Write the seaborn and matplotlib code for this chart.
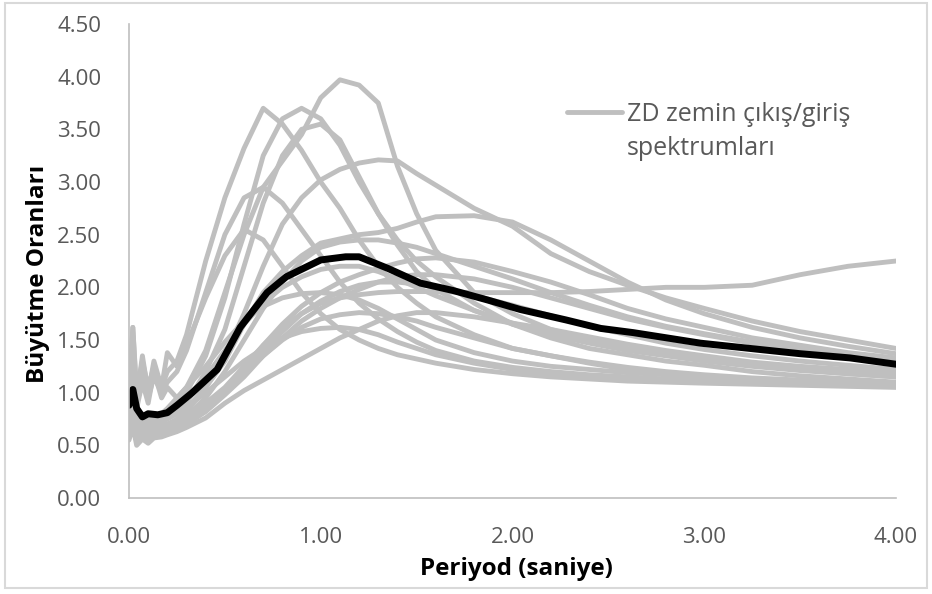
import numpy as np
import pandas as pd
import seaborn as sns
import matplotlib
matplotlib.use("Agg")
import matplotlib.pyplot as plt
from matplotlib.lines import Line2D
from matplotlib.patches import Rectangle

# Period grid (s) shared by all spectra
period = [0.00, 0.02, 0.04, 0.07, 0.10, 0.13, 0.17, 0.20, 0.25, 0.30, 0.40, 0.50,
          0.60, 0.70, 0.80, 0.90, 1.00, 1.10, 1.20, 1.30, 1.40, 1.50, 1.60, 1.80,
          2.00, 2.20, 2.40, 2.60, 2.80, 3.00, 3.25, 3.50, 3.75, 4.00]

# Output/input spectral ratios of the individual records
spectra = {
    "r01": [0.70, 0.85, 0.72, 0.80, 0.75, 0.78, 0.80, 0.85, 0.95, 1.05, 1.40, 1.95, 2.50, 2.95, 3.20, 3.45, 3.80, 3.97, 3.92, 3.75, 3.15, 2.70, 2.35, 1.95, 1.75, 1.60, 1.50, 1.42, 1.36, 1.32, 1.26, 1.22, 1.18, 1.15],
    "r02": [0.95, 1.62, 1.00, 1.30, 1.05, 1.25, 1.05, 1.20, 1.30, 1.55, 2.25, 2.85, 3.32, 3.70, 3.55, 3.30, 3.00, 2.75, 2.45, 2.20, 2.00, 1.85, 1.72, 1.55, 1.42, 1.35, 1.28, 1.22, 1.18, 1.15, 1.12, 1.10, 1.08, 1.06],
    "r03": [0.75, 0.90, 0.70, 0.75, 0.72, 0.75, 0.78, 0.82, 0.90, 1.00, 1.35, 1.90, 2.60, 3.25, 3.60, 3.70, 3.60, 3.35, 3.00, 2.70, 2.45, 2.25, 2.10, 1.85, 1.65, 1.52, 1.42, 1.36, 1.30, 1.26, 1.20, 1.16, 1.13, 1.10],
    "r04": [0.65, 0.80, 0.62, 0.68, 0.65, 0.66, 0.68, 0.70, 0.75, 0.82, 1.05, 1.35, 1.75, 2.20, 2.60, 2.85, 3.02, 3.12, 3.18, 3.21, 3.20, 3.08, 2.97, 2.75, 2.58, 2.32, 2.15, 2.02, 1.90, 1.80, 1.68, 1.58, 1.50, 1.42],
    "r05": [0.70, 0.85, 0.68, 0.72, 0.70, 0.72, 0.74, 0.76, 0.80, 0.85, 1.05, 1.30, 1.65, 1.95, 2.15, 2.30, 2.42, 2.46, 2.50, 2.52, 2.56, 2.62, 2.67, 2.68, 2.62, 2.45, 2.25, 2.05, 1.88, 1.75, 1.62, 1.52, 1.44, 1.37],
    "r06": [0.60, 0.75, 0.58, 0.62, 0.60, 0.62, 0.64, 0.66, 0.70, 0.75, 0.90, 1.05, 1.25, 1.45, 1.62, 1.75, 1.85, 1.90, 1.93, 1.95, 1.96, 1.96, 1.96, 1.95, 1.95, 1.95, 1.96, 1.98, 2.00, 2.00, 2.02, 2.12, 2.20, 2.25],
    "r07": [0.90, 1.62, 0.95, 1.35, 1.00, 1.30, 1.05, 1.38, 1.25, 1.45, 1.90, 2.30, 2.55, 2.45, 2.20, 1.95, 1.75, 1.60, 1.50, 1.42, 1.36, 1.32, 1.28, 1.22, 1.18, 1.15, 1.13, 1.11, 1.10, 1.09, 1.08, 1.07, 1.06, 1.05],
    "r08": [0.85, 1.20, 0.90, 1.25, 0.95, 1.15, 1.00, 1.10, 1.20, 1.40, 1.95, 2.50, 2.85, 2.95, 2.80, 2.55, 2.30, 2.05, 1.85, 1.70, 1.58, 1.48, 1.40, 1.30, 1.24, 1.20, 1.17, 1.15, 1.13, 1.12, 1.10, 1.09, 1.08, 1.07],
    "r09": [0.70, 0.85, 0.65, 0.70, 0.68, 0.70, 0.72, 0.75, 0.82, 0.90, 1.20, 1.60, 2.20, 2.80, 3.25, 3.50, 3.55, 3.40, 3.05, 2.70, 2.40, 2.15, 1.98, 1.78, 1.65, 1.55, 1.47, 1.40, 1.35, 1.30, 1.25, 1.21, 1.18, 1.15],
    "r10": [0.65, 0.80, 0.60, 0.65, 0.62, 0.64, 0.66, 0.68, 0.72, 0.78, 0.95, 1.20, 1.50, 1.80, 2.05, 2.25, 2.38, 2.43, 2.45, 2.45, 2.42, 2.38, 2.32, 2.20, 2.08, 1.95, 1.83, 1.72, 1.63, 1.56, 1.48, 1.41, 1.36, 1.32],
    "r11": [0.62, 0.75, 0.58, 0.62, 0.60, 0.61, 0.63, 0.65, 0.68, 0.72, 0.85, 1.02, 1.22, 1.45, 1.65, 1.82, 1.95, 2.05, 2.12, 2.18, 2.23, 2.27, 2.28, 2.24, 2.15, 2.05, 1.93, 1.80, 1.70, 1.62, 1.52, 1.45, 1.38, 1.33],
    "r12": [0.75, 0.95, 0.72, 0.78, 0.75, 0.76, 0.78, 0.80, 0.88, 0.95, 1.15, 1.40, 1.65, 1.85, 2.00, 2.10, 2.17, 2.20, 2.20, 2.15, 2.08, 2.00, 1.92, 1.78, 1.66, 1.56, 1.48, 1.41, 1.36, 1.32, 1.27, 1.23, 1.20, 1.17],
    "r13": [0.60, 0.70, 0.55, 0.60, 0.58, 0.60, 0.62, 0.64, 0.68, 0.72, 0.85, 1.00, 1.20, 1.40, 1.58, 1.75, 1.87, 1.96, 2.02, 2.05, 2.05, 2.03, 2.00, 1.92, 1.83, 1.73, 1.63, 1.55, 1.47, 1.41, 1.35, 1.30, 1.26, 1.22],
    "r14": [0.55, 0.68, 0.50, 0.56, 0.52, 0.57, 0.58, 0.60, 0.63, 0.67, 0.76, 0.90, 1.02, 1.12, 1.22, 1.32, 1.42, 1.52, 1.60, 1.68, 1.73, 1.76, 1.76, 1.72, 1.66, 1.60, 1.53, 1.46, 1.40, 1.35, 1.29, 1.25, 1.22, 1.19],
    "r15": [0.62, 0.75, 0.58, 0.62, 0.60, 0.62, 0.63, 0.65, 0.70, 0.75, 0.88, 1.02, 1.18, 1.35, 1.50, 1.62, 1.70, 1.74, 1.76, 1.75, 1.72, 1.68, 1.62, 1.52, 1.42, 1.35, 1.29, 1.24, 1.20, 1.17, 1.14, 1.12, 1.10, 1.08],
    "r16": [0.68, 0.85, 0.65, 0.70, 0.68, 0.70, 0.72, 0.75, 0.80, 0.86, 1.00, 1.15, 1.30, 1.42, 1.52, 1.58, 1.61, 1.62, 1.60, 1.55, 1.48, 1.42, 1.36, 1.28, 1.22, 1.18, 1.15, 1.13, 1.12, 1.11, 1.10, 1.09, 1.08, 1.07],
    "r17": [0.80, 1.40, 0.85, 1.10, 0.90, 1.20, 0.95, 1.05, 0.95, 1.05, 1.25, 1.48, 1.68, 1.82, 1.90, 1.94, 1.95, 1.93, 1.88, 1.80, 1.70, 1.60, 1.50, 1.38, 1.30, 1.25, 1.22, 1.19, 1.17, 1.15, 1.13, 1.11, 1.10, 1.09],
    "r18": [0.58, 0.70, 0.55, 0.58, 0.57, 0.58, 0.60, 0.62, 0.65, 0.70, 0.82, 0.98, 1.15, 1.35, 1.52, 1.68, 1.80, 1.90, 1.98, 2.05, 2.10, 2.12, 2.12, 2.08, 2.00, 1.90, 1.80, 1.70, 1.62, 1.55, 1.47, 1.40, 1.35, 1.30],
}

# Mean ratio curve
mean_period = [0.00, 0.02, 0.04, 0.07, 0.10, 0.15, 0.20, 0.25, 0.33, 0.46, 0.58, 0.72,
               0.82, 1.00, 1.13, 1.20, 1.35, 1.52, 1.69, 1.87, 2.04, 2.28, 2.46, 2.63,
               2.98, 3.29, 3.50, 3.76, 4.00]
mean_ratio = [0.88, 1.03, 0.85, 0.77, 0.80, 0.79, 0.81, 0.88, 1.00, 1.22, 1.62, 1.95,
              2.10, 2.26, 2.29, 2.29, 2.18, 2.04, 1.97, 1.88, 1.79, 1.69, 1.61, 1.57,
              1.47, 1.41, 1.37, 1.33, 1.27]

x_ticks = [0.0, 1.0, 2.0, 3.0, 4.0]
y_ticks = [0.0, 0.5, 1.0, 1.5, 2.0, 2.5, 3.0, 3.5, 4.0, 4.5]
x_label = "Periyod (saniye)"
y_label = "Büyütme Oranları"
legend_lines = ["ZD zemin çıkış/giriş", "spektrumları"]

sns.set_theme(style="white")
plt.rcParams["font.family"] = ["Open Sans", "DejaVu Sans"]

long = pd.DataFrame(
    [(name, p, v) for name, vals in spectra.items() for p, v in zip(period, vals)],
    columns=["kayit", "periyod", "oran"],
)
mean_df = pd.DataFrame({"periyod": mean_period, "oran": mean_ratio})

fig = plt.figure(figsize=(9.32, 5.94), dpi=100)
ax = fig.add_axes([0.1384, 0.1616, 0.823, 0.798])

gray = "#BFBFBF"
sns.lineplot(data=long, x="periyod", y="oran", units="kayit", estimator=None,
             color=gray, lw=3.5, ax=ax, legend=False)
sns.lineplot(data=mean_df, x="periyod", y="oran", color="black", lw=5,
             ax=ax, legend=False)

ax.set_xlim(0, 4)
ax.set_ylim(0, 4.5)
ax.set_xticks(x_ticks)
ax.set_yticks(y_ticks)
ax.set_xticklabels([f"{t:.2f}" for t in x_ticks])
ax.set_yticklabels([f"{t:.2f}" for t in y_ticks])
ax.tick_params(axis="both", length=0, labelsize=16, labelcolor="#595959")
ax.tick_params(axis="x", pad=21)
ax.tick_params(axis="y", pad=20)

for side in ("top", "right"):
    ax.spines[side].set_visible(False)
for side in ("left", "bottom"):
    ax.spines[side].set_color("#BFBFBF")
    ax.spines[side].set_linewidth(1.2)

ax.set_xlabel(x_label, fontsize=17.5, fontweight="bold", color="black")
ax.set_ylabel(y_label, fontsize=17.5, fontweight="bold", color="black")
ax.xaxis.set_label_coords(0.505, -0.124)
ax.yaxis.set_label_coords(-0.103, 0.473)

handles = [Line2D([], [], color=gray, lw=3.5),
           Line2D([], [], color="none", lw=0)]
leg = ax.legend(handles, legend_lines, loc="upper left",
                bbox_to_anchor=(0.571, 0.836), frameon=False, fontsize=18,
                handlelength=2.2, handletextpad=0.2, labelspacing=0.38,
                borderpad=0, borderaxespad=0)
for t in leg.get_texts():
    t.set_color("#595959")

fig.patches.append(Rectangle((0.005, 0.01), 0.99, 0.985, transform=fig.transFigure,
                             fill=False, edgecolor="#D9D9D9", lw=1.5))

fig.savefig("out.png", dpi=100)
